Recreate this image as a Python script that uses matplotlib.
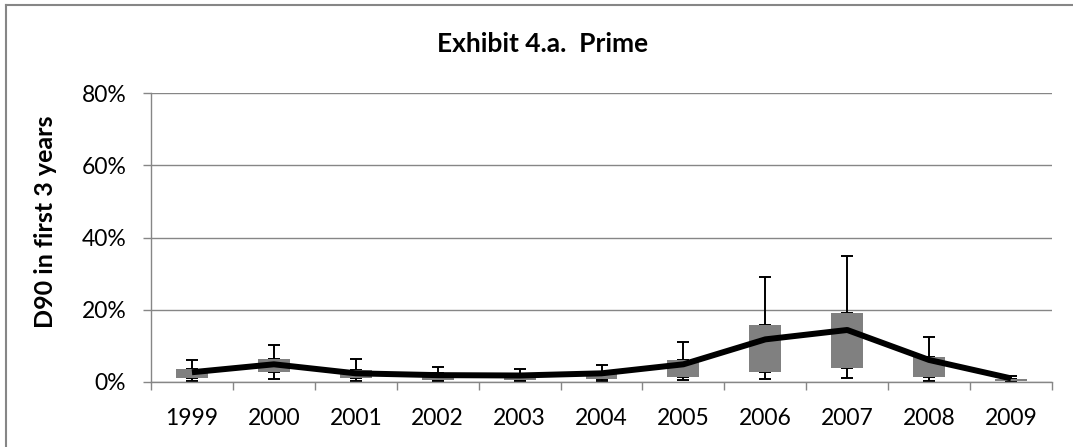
"""Exhibit 4.a. Prime: D90 in first 3 years, box ranges with median line."""

import matplotlib
matplotlib.use("Agg")
import matplotlib.pyplot as plt
from matplotlib.lines import Line2D
from matplotlib.ticker import FuncFormatter
import numpy as np

years = ["1999", "2000", "2001", "2002", "2003", "2004",
         "2005", "2006", "2007", "2008", "2009"]

# all values in percent
whisker_low = [0.4, 0.8, 0.4, 0.3, 0.3, 0.4, 0.6, 0.8, 1.0, 0.3, 0.3]
box_low = [1.2, 2.8, 1.1, 0.6, 0.6, 0.8, 1.4, 2.9, 3.9, 1.5, 0.4]
box_high = [3.5, 6.5, 3.3, 2.6, 2.3, 2.9, 6.1, 15.9, 19.2, 6.8, 0.7]
whisker_high = [6.2, 10.2, 6.3, 4.2, 3.5, 4.7, 11.1, 29.0, 34.9, 12.4, 1.6]
median = [2.7, 4.9, 2.4, 1.9, 1.8, 2.4, 4.9, 11.8, 14.4, 6.1, 1.0]

GRID = "#868686"
BOX = "#808080"

plt.rcParams.update({
    "font.family": ["Lato", "DejaVu Sans"],
    "font.size": 16,
})

fig = plt.figure(figsize=(10.73, 4.47), dpi=100)
ax = fig.add_axes([151 / 1073, 65 / 447, 901 / 1073, 289 / 447])

x = np.arange(len(years))
lo = np.array(box_low)
hi = np.array(box_high)

ax.bar(x, hi - lo, bottom=lo, width=0.39, color=BOX, zorder=2)

# whiskers: from box edges out to the extremes
ax.errorbar(x, hi, yerr=[np.zeros(len(x)), np.array(whisker_high) - hi],
            fmt="none", ecolor="black", elinewidth=1.4, capsize=4.5,
            capthick=1.4, zorder=1)
ax.errorbar(x, lo, yerr=[lo - np.array(whisker_low), np.zeros(len(x))],
            fmt="none", ecolor="black", elinewidth=1.4, capsize=4.5,
            capthick=1.4, zorder=1)

ax.plot(x, median, color="black", linewidth=4.3, solid_capstyle="butt",
        solid_joinstyle="round", zorder=3)

ax.set_xlim(-0.5, len(years) - 0.5)
ax.set_ylim(0, 80)
ax.set_yticks([0, 20, 40, 60, 80])
ax.yaxis.set_major_formatter(FuncFormatter(lambda v, p: f"{v:.0f}%"))
ax.set_xticks(x)
ax.set_xticklabels(years)
ax.set_xticks(np.arange(-0.5, len(years)), minor=True)

ax.grid(axis="y", color=GRID, linewidth=1.0)
ax.set_axisbelow(True)
for side in ["top", "right"]:
    ax.spines[side].set_visible(False)
for side in ["left", "bottom"]:
    ax.spines[side].set_color(GRID)
    ax.spines[side].set_linewidth(1.0)

ax.tick_params(axis="y", length=5.8, width=1.0, color=GRID, pad=12,
               labelsize=16.5)
ax.tick_params(axis="x", which="major", length=0, pad=19, labelsize=16.5)
ax.tick_params(axis="x", which="minor", length=5.8, width=1.0, color=GRID)

fig.text(543 / 1073, 1 - 44 / 447, "Exhibit 4.a.  Prime", ha="center",
         va="center", fontsize=19, fontweight="bold")
fig.text(46 / 1073, 1 - 222 / 447, "D90 in first 3 years", ha="center",
         va="center", rotation=90, fontsize=18, fontweight="bold")

# chart frame (left and top edges visible in the crop)
fig.add_artist(Line2D([6 / 1073, 6 / 1073], [0, 1 - 5 / 447],
                      transform=fig.transFigure, color=GRID, linewidth=1.5))
fig.add_artist(Line2D([6 / 1073, 1], [1 - 5 / 447, 1 - 5 / 447],
                      transform=fig.transFigure, color=GRID, linewidth=1.5))

fig.savefig("out.png", dpi=100)
